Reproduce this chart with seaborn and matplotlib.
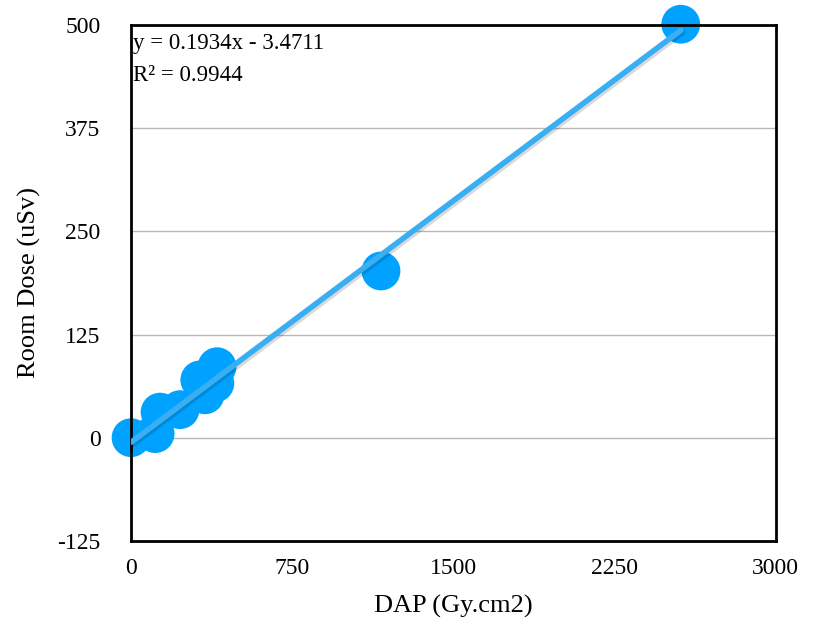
import numpy as np
import pandas as pd
import matplotlib
matplotlib.use("Agg")
import matplotlib.pyplot as plt
import matplotlib.patheffects as pe
import seaborn as sb

dap = [0, 112, 135, 228, 344, 320, 390, 400, 1163, 2558]
room_dose = [0, 5, 31, 34, 52, 70, 66, 86, 202, 501]
x_ticks = [0, 750, 1500, 2250, 3000]
y_ticks = [-125, 0, 125, 250, 375, 500]

df = pd.DataFrame({"dap": dap, "dose": room_dose})

sb.set_style("white")
plt.rcParams["font.family"] = ["Liberation Serif", "DejaVu Serif"]
plt.rcParams["axes.unicode_minus"] = False
for k in ["text.color", "axes.labelcolor", "xtick.color", "ytick.color"]:
    plt.rcParams[k] = "black"

fig = plt.figure(figsize=(8.14, 6.26), dpi=100)
ax = fig.add_axes([0.161, 0.136, 0.792, 0.824])

for y in y_ticks:
    ax.axhline(y, color="#b8b8b8", lw=1, zorder=0)

sb.scatterplot(data=df, x="dap", y="dose", s=780, color="#00a2ff",
               edgecolor="none", ax=ax, zorder=2, clip_on=False)
sb.regplot(data=df, x="dap", y="dose", scatter=False, ci=None, ax=ax,
           line_kws={"color": "#3aaef2", "lw": 4, "zorder": 3,
                     "path_effects": [pe.SimpleLineShadow(offset=(1.5, -1.5), alpha=0.15),
                                      pe.Normal()]})

ax.set_xlim(0, 3000)
ax.set_ylim(-125, 500)
ax.set_xticks(x_ticks)
ax.set_yticks(y_ticks)
ax.tick_params(labelsize=17, length=0)
ax.tick_params(axis="y", pad=22)
ax.tick_params(axis="x", pad=12)
for s in ax.spines.values():
    s.set_color("black")
    s.set_linewidth(2)

ax.set_xlabel("DAP (Gy.cm2)", fontsize=19, labelpad=12)
ax.set_ylabel("Room Dose (uSv)", fontsize=19, labelpad=12)

ax.text(0.003, 0.984, "y = 0.1934x - 3.4711", transform=ax.transAxes,
        fontsize=16.5, va="top", ha="left")
ax.text(0.003, 0.922, "R² = 0.9944", transform=ax.transAxes,
        fontsize=16.5, va="top", ha="left")

fig.savefig("out.png", dpi=100)
